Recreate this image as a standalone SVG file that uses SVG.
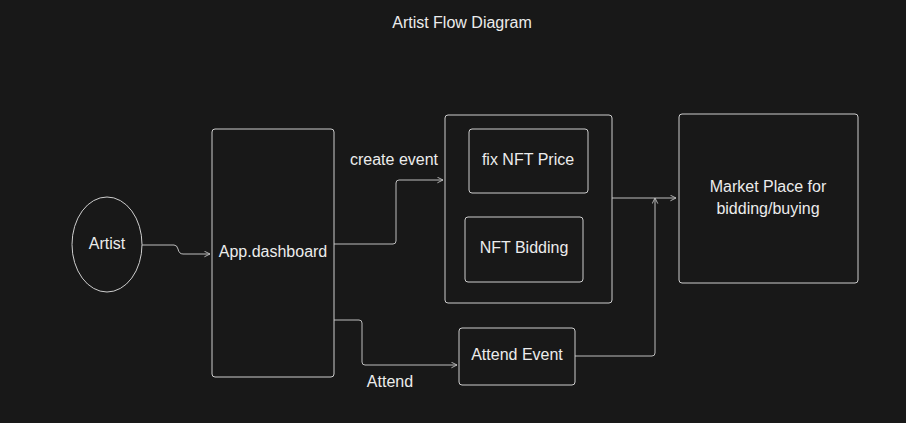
<svg xmlns="http://www.w3.org/2000/svg" width="906" height="423" viewBox="0 0 906 423">
<style>
.bg{fill:#181818}
.box{fill:#181818;stroke:#cdcdcd;stroke-width:1}
.t{font-family:"Liberation Sans",Arial,sans-serif;font-size:16px;fill:#ececec;text-anchor:middle}
.c{fill:none;stroke:#bdbdbd;stroke-width:1}
</style>
<defs>
<marker id="ah" viewBox="0 0 10 10" refX="9" refY="5" markerWidth="7" markerHeight="7" orient="auto" markerUnits="userSpaceOnUse">
<path d="M1,1 L9,5 L1,9" fill="none" stroke="#bdbdbd" stroke-width="1.3"/>
</marker>
</defs>
<rect class="bg" width="906" height="423"/>
<text class="t" x="462" y="28">Artist Flow Diagram</text>
<g id="connectors">
<path class="c" d="M142,245 H174 Q177,245 178,249 Q179,254 183,254 H210" marker-end="url(#ah)"/>
<path class="c" d="M334,244 H393 Q396,244 396,241 V183 Q396,180 399,180 H443" marker-end="url(#ah)"/>
<path class="c" d="M334,320 H359 Q362,320 362,323 V362 Q362,365 365,365 H457" marker-end="url(#ah)"/>
<path class="c" d="M612,198 H676" marker-end="url(#ah)"/>
<path class="c" d="M575,356 H652 Q655,356 655,353 V198" marker-end="url(#ah)"/>
<text class="t" x="394" y="165">create event</text>
<text class="t" x="390" y="387">Attend</text>
</g>
<g id="artist">
<ellipse class="box" cx="107" cy="244.5" rx="35" ry="47.5"/>
<text class="t" x="107" y="249">Artist</text>
</g>
<g id="dashboard">
<rect class="box" x="212" y="129" width="122" height="248" rx="3"/>
<text class="t" x="273" y="257">App.dashboard</text>
</g>
<g id="event-group">
<rect class="box" x="445" y="115" width="167" height="188" rx="3"/>
</g>
<g id="fix-price">
<rect class="box" x="469" y="129" width="119" height="64" rx="3"/>
<text class="t" x="528" y="165">fix NFT Price</text>
</g>
<g id="bidding">
<rect class="box" x="465" y="217" width="118" height="65" rx="3"/>
<text class="t" x="524" y="253">NFT Bidding</text>
</g>
<g id="attend-event">
<rect class="box" x="459" y="328" width="116" height="57" rx="3"/>
<text class="t" x="517" y="360">Attend Event</text>
</g>
<g id="market">
<rect class="box" x="679" y="114" width="179" height="169" rx="3"/>
<text class="t" x="768" y="192">Market Place for</text>
<text class="t" x="768" y="214">bidding/buying</text>
</g>
</svg>
